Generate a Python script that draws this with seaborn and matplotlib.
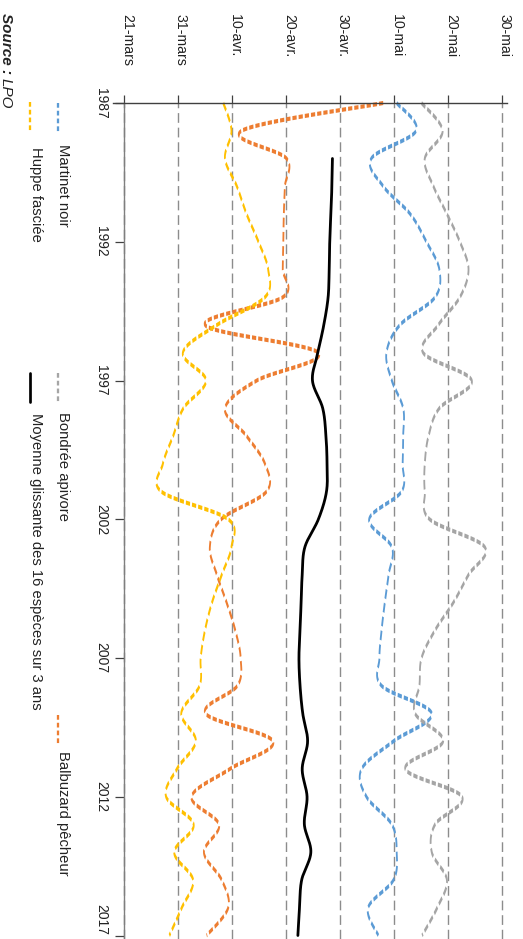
import matplotlib
matplotlib.use("Agg")
import matplotlib.pyplot as plt
import matplotlib.transforms as mtransforms
import numpy as np
import pandas as pd
import seaborn as sns
from matplotlib.collections import PolyCollection
from matplotlib.lines import Line2D

W, H = 523, 939

years = list(range(1987, 2018))

# arrival dates as day of year (80 = 21 March, 150 = 30 May)
martinet_noir = [130.5, 134.1, 125.8, 128.0, 133.0, 136.0, 138.4, 137.6, 131.1, 128.6,
                 129.6, 131.7, 131.7, 131.6, 131.4, 125.4, 129.6, 129.0, 128.3, 127.7,
                 127.3, 127.7, 137.0, 129.9, 124.0, 124.9, 129.6, 130.5, 129.9, 125.2,
                 127.1]
bondree_apivore = [135.1, 139.0, 135.7, 137.3, 139.8, 142.2, 143.8, 142.2, 138.2, 135.4,
                   144.4, 138.4, 136.4, 135.7, 135.7, 136.6, 146.8, 143.8, 141.0, 137.6,
                   135.1, 134.7, 133.9, 139.1, 132.1, 142.6, 137.6, 137.0, 139.8, 138.0,
                   135.2]
balbuzard_pecheur = [128.0, 101.8, 110.1, 109.8, 109.6, 109.5, 109.4, 109.4, 95.0, 116.0,
                     104.6, 98.7, 102.7, 106.1, 106.4, 98.0, 95.9, 97.2, 99.0, 100.6,
                     101.6, 101.0, 95.1, 107.6, 99.6, 92.5, 97.6, 94.8, 98.1, 99.3,
                     95.3]
huppe_fasciee = [98.4, 99.9, 98.7, 100.9, 102.7, 104.9, 106.7, 106.1, 97.2, 90.9,
                 95.2, 91.0, 89.1, 87.2, 86.9, 99.3, 99.9, 98.1, 96.3, 95.0,
                 94.2, 94.0, 90.6, 93.3, 89.8, 87.8, 92.9, 89.3, 92.8, 90.7,
                 88.4]
moyenne_years = list(range(1989, 2018))
moyenne_16_especes = [118.6, 118.5, 118.3, 118.1, 118.0, 117.8, 117.0, 115.9, 114.9, 116.8,
                      117.4, 117.6, 117.5, 116.0, 113.5, 113.0, 112.8, 112.6, 112.4, 112.6,
                      113.1, 114.0, 113.0, 113.9, 113.4, 114.6, 112.9, 112.5, 112.2]

date_ticks = [80, 90, 100, 110, 120, 130, 140, 150]
date_labels = ["21-mars", "31-mars", "10-avr.", "20-avr.", "30-avr.", "10-mai", "20-mai", "30-mai"]
year_ticks = [1987, 1992, 1997, 2002, 2007, 2012, 2017]

colors = {
    "Martinet noir": "#5B9BD5",
    "Bondrée apivore": "#A5A5A5",
    "Balbuzard pêcheur": "#ED7D31",
    "Huppe fasciée": "#FFC000",
    "Moyenne": "#000000",
}


def smooth(xv, yv, n=40):
    """Excel-like smoothed line (Catmull-Rom) through the yearly points."""
    p = np.column_stack([xv, yv]).astype(float)
    p = np.vstack([p[0], p, p[-1]])
    t = np.linspace(0, 1, n, endpoint=False)[:, None]
    out = []
    for i in range(1, len(p) - 2):
        p0, p1, p2, p3 = p[i - 1], p[i], p[i + 1], p[i + 2]
        out.append(0.5 * (2 * p1 + (p2 - p0) * t
                          + (2 * p0 - 5 * p1 + 4 * p2 - p3) * t ** 2
                          + (3 * p1 - p0 - 3 * p2 + p3) * t ** 3))
    out.append(p[-2][None])
    return np.vstack(out)


def stretched_dashes(ax, xv, yv, color, width=1.8, on=4.2, off=2.0, aspect=2.3):
    """Dashed stroke as it looks in the source: the chart was stretched
    vertically, so dashes and stroke width depend on the direction."""
    pts = ax.transData.transform(np.column_stack([xv, yv])) / [1.0, aspect]
    s = np.concatenate([[0.0], np.cumsum(np.hypot(*np.diff(pts, axis=0).T))])
    tan = np.gradient(pts, axis=0)
    tan /= np.hypot(tan[:, 0], tan[:, 1])[:, None]
    inv = ax.transData.inverted()
    polys = []
    for a in np.arange(0, s[-1], on + off):
        b = min(a + on, s[-1])
        ss = np.concatenate([[a], s[(s > a) & (s < b)], [b]])
        p = np.column_stack([np.interp(ss, s, pts[:, 0]), np.interp(ss, s, pts[:, 1])])
        tx, ty = np.interp(ss, s, tan[:, 0]), np.interp(ss, s, tan[:, 1])
        nrm = np.column_stack([-ty, tx]) / np.hypot(tx, ty)[:, None] * width / 2
        poly = np.vstack([p + nrm, (p - nrm)[::-1]]) * [1.0, aspect]
        polys.append(inv.transform(poly))
    ax.add_collection(PolyCollection(polys, facecolors=color, edgecolors="none",
                                     clip_on=False), autolim=False)


sns.set_theme(style="white")
plt.rcParams["font.family"] = ["Liberation Sans", "DejaVu Sans"]
plt.rcParams["lines.scale_dashes"] = False

fig = plt.figure(figsize=(W / 100, H / 100), dpi=100)
ax = fig.add_axes([113 / W, 0, (507 - 113) / W, (H - 103) / H])
ax.set_xlim(80 - 11 / 5.404, 150 + 5 / 5.404)
ax.set_ylim(2017 + 3.5 / 27.75, 1987)

# moving average, solid black
moy = pd.DataFrame(smooth(moyenne_years, moyenne_16_especes), columns=["annee", "jour"])
sns.lineplot(data=moy, x="jour", y="annee", sort=False, estimator=None, orient="y",
             color=colors["Moyenne"], linewidth=2.0, ax=ax, zorder=5)
ax.set_xlim(80 - 11 / 5.404, 150 + 5 / 5.404)
ax.set_ylim(2017 + 3.5 / 27.75, 1987)
ax.set_xlabel("")
ax.set_ylabel("")

for name, vals in [("Martinet noir", martinet_noir), ("Bondrée apivore", bondree_apivore),
                   ("Balbuzard pêcheur", balbuzard_pecheur), ("Huppe fasciée", huppe_fasciee)]:
    c = smooth(years, vals)
    stretched_dashes(ax, c[:, 1], c[:, 0], colors[name])

# axes
for side in ["right", "bottom"]:
    ax.spines[side].set_visible(False)
ax.spines["left"].set_position(("data", 80))
ax.spines["left"].set_color("#7f7f7f")
ax.spines["top"].set_color("#404040")
ax.spines["left"].set_linewidth(1.0)
ax.spines["top"].set_linewidth(1.0)

ax.xaxis.tick_top()
ax.set_xticks(date_ticks)
ax.tick_params(axis="x", top=True, bottom=False, labeltop=False, labelbottom=False,
               direction="out", length=5.8, width=0.9, color="#404040")
ax.set_yticks(year_ticks)
ax.set_yticklabels([str(y) for y in year_ticks], rotation=-90, va="center", fontsize=10)
ax.get_yticklabels()[-1].set_va("bottom")  # last year kept inside the picture
ax.tick_params(axis="y", left=True, direction="out", length=6.5, width=0.9,
               color="#404040", pad=4.7, labelcolor="#222222")
ax.grid(axis="x", color="#8c8c8c", linestyle=(0, (7, 3.5)), linewidth=1.0)
ax.grid(axis="y", visible=False)

lab_trans = (mtransforms.blended_transform_factory(ax.transData, fig.transFigure)
             + mtransforms.ScaledTranslation(3 / 100, 0, fig.dpi_scale_trans))
for d, lab in zip(date_ticks, date_labels):
    ax.text(d, 1 - 13.5 / H, lab, transform=lab_trans, rotation=-90, ha="center",
            va="top", fontsize=10.2, color="#222222", clip_on=False)

# legend (rotated, drawn by hand)
legend_items = [
    ("Martinet noir", colors["Martinet noir"], True, 58, 103, 62.8, 144),
    ("Huppe fasciée", colors["Huppe fasciée"], True, 29.5, 102, 36.3, 147),
    ("Bondrée apivore", colors["Bondrée apivore"], True, 58, 373, 62.8, 412),
    ("Moyenne glissante des 16 espèces sur 3 ans", colors["Moyenne"], False, 29.5, 373, 36.3, 413),
    ("Balbuzard pêcheur", colors["Balbuzard pêcheur"], True, 58, 715, 62.8, 751),
]
for label, col, dashed, mx, my, tx, ty in legend_items:
    kw = dict(dashes=(3.4, 2.2), lw=1.65) if dashed else dict(lw=1.95)
    fig.add_artist(Line2D([mx / W, mx / W], [1 - my / H, 1 - (my + 29) / H],
                          color=col, transform=fig.transFigure, **kw))
    fig.text(tx / W, 1 - ty / H, label, rotation=-90, ha="center", va="top",
             fontsize=10.6, color="#222222")

src = fig.text(6 / W, 1 - 13 / H, "Source : ", rotation=-90, ha="center", va="top",
               fontsize=11, fontweight="bold", fontstyle="italic", color="#222222")
ax.annotate("LPO", xy=(0.5, 0), xycoords=src, rotation=-90, ha="center", va="top",
            fontsize=11, fontstyle="italic", color="#222222", annotation_clip=False)

fig.savefig("out.png", dpi=100)
